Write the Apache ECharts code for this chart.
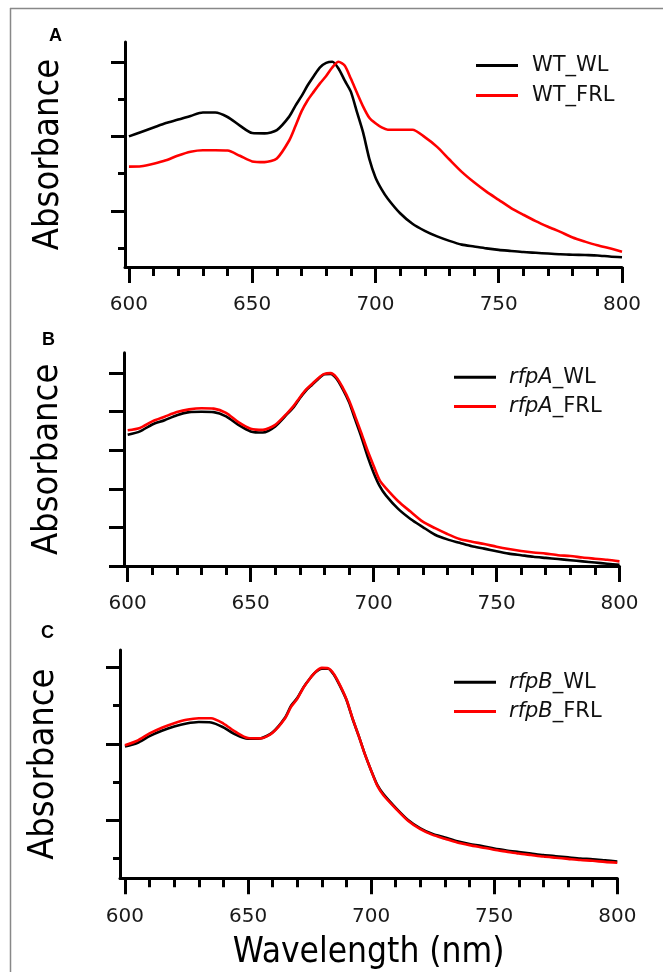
<!DOCTYPE html>
<html>
<head>
<meta charset="utf-8">
<script src="https://cdn.jsdelivr.net/npm/echarts@6/dist/echarts.min.js"></script>
<style>
html,body{margin:0;padding:0;background:#fff;}
#chart{width:663px;height:972px;}
</style>
</head>
<body>
<div id="chart"></div>
<script>
// ---- data (normalised absorbance) ----
const wavelengths = [600,605,610,615,620,625,630,635,640,645,650,655,660,665,667.5,670,672.5,675,677.5,680,682.5,685,687.5,690,692.5,695,697.5,700,702.5,705,710,715,720,725,730,735,740,745,750,755,760,765,770,775,780,785,790,795,800];

const wtWL   = [0.800,0.812,0.824,0.836,0.845,0.855,0.864,0.864,0.852,0.829,0.809,0.808,0.817,0.853,0.882,0.908,0.937,0.962,0.985,0.997,1.000,0.982,0.950,0.920,0.865,0.810,0.740,0.690,0.658,0.633,0.594,0.566,0.547,0.532,0.520,0.510,0.505,0.500,0.496,0.493,0.490,0.488,0.486,0.484,0.483,0.482,0.481,0.478,0.476];
const wtFRL  = [0.719,0.720,0.727,0.736,0.749,0.759,0.763,0.763,0.762,0.748,0.733,0.731,0.741,0.789,0.827,0.867,0.897,0.920,0.942,0.962,0.985,1.000,0.990,0.955,0.917,0.880,0.850,0.835,0.824,0.818,0.818,0.818,0.798,0.772,0.738,0.705,0.677,0.652,0.630,0.608,0.590,0.573,0.558,0.544,0.529,0.518,0.508,0.500,0.491];

const rfpAWL  = [0.840,0.849,0.867,0.878,0.891,0.899,0.900,0.899,0.888,0.866,0.849,0.846,0.862,0.895,0.912,0.935,0.955,0.970,0.985,0.997,0.998,0.985,0.958,0.925,0.880,0.835,0.785,0.742,0.707,0.683,0.648,0.622,0.601,0.581,0.569,0.560,0.551,0.545,0.538,0.532,0.528,0.524,0.521,0.518,0.515,0.512,0.509,0.506,0.503];
const rfpAFRL = [0.852,0.858,0.875,0.887,0.899,0.906,0.909,0.908,0.897,0.873,0.856,0.853,0.866,0.897,0.915,0.937,0.957,0.972,0.987,0.998,1.000,0.988,0.962,0.930,0.888,0.845,0.800,0.760,0.722,0.702,0.668,0.641,0.615,0.598,0.583,0.570,0.563,0.557,0.550,0.544,0.539,0.535,0.532,0.528,0.526,0.522,0.519,0.516,0.512];

const rfpBWL  = [0.793,0.802,0.820,0.834,0.845,0.853,0.857,0.856,0.843,0.824,0.813,0.814,0.830,0.868,0.900,0.920,0.948,0.970,0.988,0.997,0.997,0.980,0.950,0.915,0.865,0.820,0.772,0.730,0.692,0.668,0.632,0.600,0.578,0.563,0.554,0.544,0.537,0.532,0.525,0.520,0.516,0.512,0.508,0.505,0.502,0.499,0.497,0.494,0.491];
const rfpBFRL = [0.796,0.808,0.827,0.842,0.854,0.863,0.867,0.867,0.853,0.831,0.815,0.814,0.829,0.866,0.897,0.918,0.947,0.970,0.989,0.999,0.998,0.982,0.952,0.916,0.866,0.820,0.772,0.730,0.690,0.665,0.630,0.598,0.576,0.561,0.551,0.541,0.534,0.528,0.522,0.517,0.512,0.508,0.504,0.501,0.498,0.495,0.493,0.490,0.488];

const xMajorTicks = [600,650,700,750,800];
const xMinorTicks = [610,620,630,640,660,670,680,690,710,720,730,740,760,770,780,790];
const yMajorTicksAC = [0.6,0.8,1.0];
const yMinorTicksAC = [0.5,0.7,0.9];
const yTicksB = [0.5,0.6,0.7,0.8,0.9,1.0];

const panelLetters = ['A','B','C'];
const seriesNames = [['WT_WL','WT_FRL'],['rfpA_WL','rfpA_FRL'],['rfpB_WL','rfpB_FRL']];
const seriesValues = [[wtWL,wtFRL],[rfpAWL,rfpAFRL],[rfpBWL,rfpBFRL]];
const yLabel = 'Absorbance';
const xLabel = 'Wavelength (nm)';

// ---- layout ----
const FONT = "'DejaVu Sans', Verdana, sans-serif";
const TITLE_FONT = "'DejaVu Sans Condensed', 'DejaVu Sans', sans-serif";
const grids = [
  {left:125, top:42,    width:497,   height:225,   xmin:598.4, ymin:0.450, ymax:1.053},
  {left:124, top:352.7, width:495.5, height:213.3, xmin:598.5, ymin:0.500, ymax:1.053},
  {left:120, top:650,   width:497.3, height:228.3, xmin:598.0, ymin:0.447, ymax:1.046}
];
const legendPos = [{left:476, top:55}, {left:454, top:366.7}, {left:454, top:671.7}];
const letterPos = [{left:49, top:27}, {left:42, top:331}, {left:41, top:624}];

const option = {
  animation:false,
  backgroundColor:'#fff',
  title: panelLetters.map((t,i)=>({text:t, left:letterPos[i].left, top:letterPos[i].top, padding:0,
    textStyle:{fontFamily:"'Liberation Sans', Arial, sans-serif", fontWeight:'bold', fontSize:18, color:'#000'}})),
  grid: grids.map(g=>({left:g.left, top:g.top, width:g.width, height:g.height, containLabel:false, outerBoundsMode:'none'})),
  xAxis: [], yAxis: [], series: [], legend: [],
  graphic: [
    {type:'line', shape:{x1:10,y1:8.5,x2:663,y2:8.5}, style:{stroke:'#888', lineWidth:1.5}, silent:true},
    {type:'line', shape:{x1:10.5,y1:8,x2:10.5,y2:972}, style:{stroke:'#888', lineWidth:1.5}, silent:true}
  ]
};

grids.forEach((g,i)=>{
  const isLast = i===2;
  // main x axis: line, major ticks, labels
  option.xAxis.push({
    type:'value', gridIndex:i, position:'bottom', min:g.xmin, max:800,
    axisLine:{show:true, onZero:false, lineStyle:{color:'#000', width:3}},
    axisTick:{show:true, customValues:xMajorTicks, length:16, lineStyle:{color:'#000', width:3}},
    axisLabel:{show:true, customValues:xMajorTicks, margin:28, fontSize:20, fontFamily:FONT, color:'#1a1a1a'},
    splitLine:{show:false},
    name: isLast ? xLabel : '', nameLocation:'middle', nameGap:57,
    nameTextStyle:{fontSize:35, fontFamily:TITLE_FONT, color:'#000'}
  });
  // minor x ticks
  option.xAxis.push({
    type:'value', gridIndex:i, position:'bottom', min:g.xmin, max:800,
    axisLine:{show:false, onZero:false},
    axisTick:{show:true, customValues:xMinorTicks, length:9, lineStyle:{color:'#000', width:3}},
    axisLabel:{show:false}, splitLine:{show:false}
  });
  const majorY = i===1 ? yTicksB : yMajorTicksAC;
  const minorY = i===1 ? [] : yMinorTicksAC;
  option.yAxis.push({
    type:'value', gridIndex:i, position:'left', min:g.ymin, max:g.ymax,
    axisLine:{show:true, onZero:false, lineStyle:{color:'#000', width:3}},
    axisTick:{show:true, customValues:majorY, length:i===1?15:14, lineStyle:{color:'#000', width:3}},
    axisLabel:{show:false}, splitLine:{show:false},
    name:yLabel, nameLocation:'middle', nameRotate:90, nameGap:58,
    nameTextStyle:{fontSize:36, fontFamily:TITLE_FONT, color:'#000'}
  });
  option.yAxis.push({
    type:'value', gridIndex:i, position:'left', min:g.ymin, max:g.ymax,
    axisLine:{show:false, onZero:false},
    axisTick:{show:minorY.length>0, customValues:minorY.length?minorY:[g.ymin], length:7, lineStyle:{color:'#000', width:3}},
    axisLabel:{show:false}, splitLine:{show:false}
  });
  const colors = ['#000000','#ff0000'];
  seriesNames[i].forEach((nm,k)=>{
    option.series.push({
      name:nm, type:'line', xAxisIndex:2*i, yAxisIndex:2*i,
      data: wavelengths.map((w,j)=>[w, seriesValues[i][k][j]]),
      showSymbol:false, symbol:'none', smooth:0.25,
      lineStyle:{color:colors[k], width:2.6}, itemStyle:{color:colors[k]},
      z: 3+k
    });
  });
  const italicPart = i===0 ? null : (i===1 ? 'rfpA' : 'rfpB');
  option.legend.push({
    data:seriesNames[i], orient:'vertical', left:legendPos[i].left, top:legendPos[i].top,
    padding:0, itemGap:i===0?9:8.3, itemWidth:42, itemHeight:3, icon:'rect',
    selectedMode:false,
    formatter: italicPart ? (n=>'{i|'+italicPart+'}'+n.slice(italicPart.length)) : undefined,
    textStyle:{fontSize:21, fontFamily:FONT, color:'#111', lineHeight:20, padding:[0,0,0,i===0?9:8],
      rich:{i:{fontStyle:'italic', fontSize:21, fontFamily:FONT, color:'#111', lineHeight:20}}}
  });
});

const chart = echarts.init(document.getElementById('chart'), null, {renderer:'canvas'});
chart.setOption(option);
</script>
</body>
</html>
